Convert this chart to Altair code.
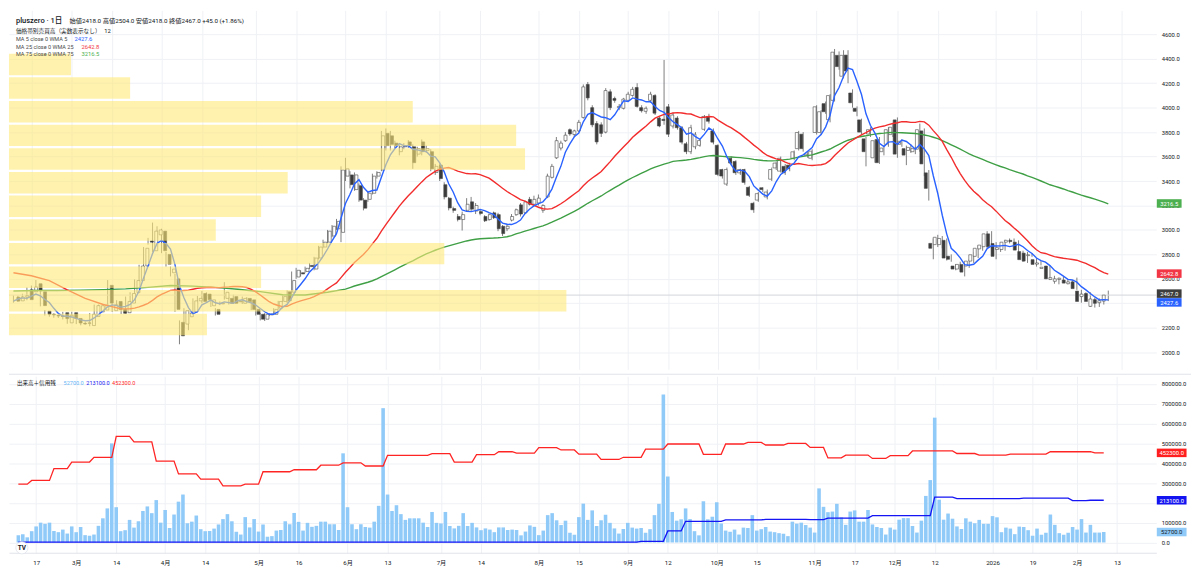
import json
import altair as alt
import pandas as pd
import numpy as np

# ---------------- layout ----------------
W = 1157
H_PRICE = 362
H_VOL = 178
FONT = "Roboto, 'Noto Sans CJK JP', 'Noto Sans', sans-serif"
TXT = "#131722"
GRID = "#eff1f5"

X_DOMAIN = [-0.99, 254.7]
PRICE_DOMAIN = [1860, 4796]
VOL_DOMAIN = [-52000, 839000]

# ---------------- axis ticks ----------------
tick_index = [4, 13, 22, 33, 42, 54, 63, 74, 83, 95, 104, 117, 126, 137, 146, 157, 166, 179, 188, 197, 206, 219, 228, 238, 247]
tick_label = ["17", "3月", "14", "4月", "14", "5月", "16", "6月", "13", "7月", "14", "8月", "15", "9月", "12", "10月", "15", "11月", "17", "12月", "12", "2026", "19", "2月", "13"]
price_ticks = [2000, 2200, 2400, 2600, 2800, 3000, 3200, 3400, 3600, 3800, 4000, 4200, 4400, 4600]
vol_ticks = [0, 100000, 200000, 300000, 400000, 500000, 600000, 700000, 800000]
# labels hidden behind the last-value tags on the right scale
price_tick_hidden = 2400
vol_tick_hidden = 200000

# ---------------- daily candles (bar 0 = 2025-02-10) ----------------
opens = [
    2450, 2420, 2450, 2510, 2494, 2560, 2494, 2336, 2310, 2300,
    2296, 2323, 2240, 2323, 2276, 2235, 2236, 2218, 2292, 2330,
    2345, 2547, 2340, 2415, 2350, 2323, 2402, 2487, 2586, 2705,
    2910, 2830, 2960, 2990, 2800, 2650, 2600, 2244, 2230, 2290,
    2330, 2420, 2480, 2475, 2380, 2350, 2395, 2440, 2440, 2455,
    2412, 2400, 2440, 2428, 2350, 2310, 2270, 2305, 2310, 2360,
    2415, 2494, 2490, 2615, 2650, 2660, 2710, 2680, 2770, 2860,
    2900, 2950, 3010, 2980, 3440, 3450, 3330, 3362, 3244, 3250,
    3300, 3440, 3490, 3790, 3770, 3710, 3640, 3680, 3720, 3680,
    3620, 3720, 3650, 3640, 3470, 3530, 3370, 3260, 3175, 3110,
    3085, 3160, 3230, 3155, 3150, 3110, 3085, 3140, 3125, 3030,
    3010, 3080, 3125, 3205, 3140, 3250, 3210, 3220, 3160, 3270,
    3430, 3590, 3670, 3730, 3820, 3780, 3810, 3920, 4190, 4000,
    3870, 3860, 3800, 4130, 4075, 4000, 3995, 4060, 4100, 4165,
    4000, 3970, 4060, 4100, 3915, 3905, 4007, 3850, 3915, 3836,
    3705, 3640, 3680, 3692, 3823, 3928, 3810, 3692, 3494, 3375,
    3586, 3560, 3467, 3494, 3349, 3218, 3244, 3345, 3270, 3415,
    3507, 3481, 3520, 3530, 3586, 3665, 3783, 3610, 3586, 3797,
    3797, 4033, 3902, 4060, 4428, 4257, 4430, 4120, 3995, 3900,
    3745, 3785, 3590, 3740, 3640, 3700, 3780, 3900, 3700, 3665,
    3650, 3640, 3660, 3810, 3467, 2890, 2880, 2880, 2915, 2785,
    2705, 2680, 2718, 2705, 2745, 2784, 2845, 2863, 2968, 2889,
    2840, 2840, 2900, 2915, 2900, 2823, 2810, 2790, 2757, 2720,
    2685, 2705, 2595, 2580, 2595, 2590, 2560, 2575, 2500, 2455,
    2480, 2375, 2430, 2405, 2418]

highs = [
    2465, 2462, 2478, 2530, 2545, 2590, 2500, 2345, 2330, 2318,
    2310, 2330, 2315, 2330, 2282, 2245, 2250, 2320, 2390, 2390,
    2395, 2590, 2400, 2425, 2360, 2455, 2490, 2595, 2715, 2860,
    2935, 3060, 3030, 3010, 2820, 2700, 2640, 2260, 2360, 2340,
    2440, 2460, 2500, 2490, 2440, 2360, 2415, 2573, 2455, 2470,
    2425, 2455, 2450, 2440, 2360, 2320, 2320, 2320, 2360, 2420,
    2465, 2505, 2660, 2690, 2670, 2700, 2730, 2780, 2870, 2920,
    3000, 3040, 3090, 3520, 3590, 3480, 3470, 3380, 3260, 3320,
    3460, 3480, 3810, 3830, 3810, 3730, 3700, 3710, 3735, 3700,
    3680, 3740, 3690, 3660, 3540, 3550, 3390, 3270, 3190, 3130,
    3150, 3260, 3270, 3220, 3165, 3120, 3135, 3150, 3140, 3040,
    3050, 3130, 3175, 3220, 3240, 3270, 3280, 3290, 3210, 3460,
    3540, 3760, 3730, 3800, 3830, 3820, 3900, 4190, 4210, 4020,
    3890, 3880, 4160, 4150, 4090, 4030, 4080, 4130, 4170, 4200,
    4020, 4010, 4130, 4110, 3930, 4390, 4030, 3960, 3930, 3850,
    3720, 3860, 3800, 3750, 3940, 3950, 3830, 3700, 3500, 3510,
    3600, 3570, 3500, 3500, 3360, 3230, 3310, 3350, 3330, 3510,
    3560, 3600, 3540, 3550, 3650, 3810, 3800, 3640, 3660, 4020,
    3980, 4050, 4110, 4480, 4460, 4470, 4470, 4150, 4010, 3910,
    3760, 3840, 3740, 3760, 3690, 3840, 3870, 3920, 3740, 3690,
    3700, 3680, 3870, 3830, 3490, 2930, 2960, 2950, 2930, 2800,
    2720, 2740, 2730, 2760, 2820, 2870, 2890, 2990, 2990, 2900,
    2870, 2920, 2930, 2930, 2915, 2830, 2820, 2810, 2770, 2745,
    2705, 2710, 2625, 2610, 2620, 2600, 2590, 2610, 2510, 2490,
    2490, 2445, 2440, 2430, 2504]

lows = [
    2405, 2412, 2438, 2425, 2480, 2495, 2375, 2300, 2290, 2282,
    2280, 2268, 2232, 2270, 2230, 2220, 2225, 2212, 2285, 2320,
    2330, 2390, 2330, 2345, 2312, 2315, 2395, 2480, 2575, 2695,
    2880, 2820, 2930, 2810, 2700, 2620, 2330, 2065, 2200, 2180,
    2320, 2400, 2400, 2420, 2370, 2300, 2385, 2430, 2390, 2395,
    2405, 2395, 2405, 2345, 2300, 2260, 2255, 2295, 2305, 2350,
    2410, 2400, 2480, 2600, 2620, 2650, 2680, 2670, 2760, 2850,
    2890, 2940, 3000, 2900, 3400, 3340, 3320, 3230, 3160, 3230,
    3290, 3420, 3480, 3650, 3650, 3670, 3610, 3660, 3670, 3500,
    3600, 3610, 3630, 3480, 3450, 3400, 3250, 3160, 3140, 3070,
    2995, 3150, 3150, 3130, 3120, 3065, 3075, 3090, 2990, 2950,
    2990, 3070, 3115, 3110, 3130, 3200, 3200, 3200, 3140, 3260,
    3420, 3580, 3650, 3720, 3770, 3760, 3800, 3910, 4060, 3840,
    3700, 3760, 3790, 3980, 4040, 3980, 3985, 4050, 4090, 4000,
    3960, 3950, 4040, 3940, 3840, 3860, 3760, 3830, 3820, 3700,
    3620, 3620, 3660, 3680, 3810, 3870, 3700, 3440, 3420, 3360,
    3530, 3450, 3450, 3370, 3270, 3140, 3230, 3310, 3250, 3400,
    3490, 3470, 3450, 3480, 3570, 3650, 3640, 3590, 3570, 3780,
    3780, 3950, 3880, 4050, 4310, 4240, 4200, 4000, 3930, 3780,
    3520, 3760, 3550, 3540, 3610, 3680, 3760, 3590, 3680, 3530,
    3630, 3620, 3640, 3440, 3240, 2760, 2860, 2850, 2750, 2740,
    2670, 2670, 2620, 2690, 2730, 2770, 2830, 2850, 2840, 2760,
    2820, 2830, 2890, 2890, 2820, 2740, 2730, 2780, 2700, 2710,
    2670, 2590, 2560, 2555, 2580, 2555, 2540, 2510, 2405, 2440,
    2370, 2365, 2370, 2390, 2418]

closes = [
    2418, 2452, 2462, 2430, 2534, 2502, 2381, 2310, 2305, 2297,
    2292, 2275, 2302, 2276, 2239, 2231, 2240, 2310, 2381, 2380,
    2385, 2402, 2388, 2350, 2318, 2415, 2480, 2586, 2705, 2850,
    2900, 2990, 3000, 2830, 2720, 2680, 2350, 2134, 2340, 2320,
    2420, 2440, 2415, 2430, 2428, 2310, 2400, 2490, 2400, 2400,
    2415, 2440, 2415, 2350, 2310, 2270, 2310, 2312, 2350, 2415,
    2455, 2420, 2586, 2670, 2640, 2686, 2700, 2770, 2860, 2900,
    2990, 3030, 3070, 3490, 3500, 3370, 3450, 3244, 3178, 3300,
    3440, 3470, 3770, 3690, 3700, 3690, 3680, 3688, 3690, 3550,
    3665, 3640, 3665, 3500, 3520, 3420, 3270, 3180, 3160, 3085,
    3125, 3210, 3170, 3200, 3135, 3075, 3125, 3100, 3010, 2970,
    3030, 3110, 3165, 3130, 3230, 3210, 3250, 3260, 3200, 3440,
    3520, 3730, 3710, 3775, 3785, 3810, 3880, 4170, 4080, 3860,
    3720, 3790, 4140, 4000, 4060, 4010, 4070, 4110, 4150, 4010,
    3975, 3995, 4110, 3955, 3850, 3895, 3783, 3940, 3836, 3718,
    3640, 3836, 3783, 3731, 3928, 3889, 3718, 3454, 3441, 3494,
    3547, 3468, 3494, 3389, 3283, 3165, 3297, 3330, 3310, 3494,
    3547, 3586, 3468, 3500, 3639, 3797, 3665, 3620, 3644, 4007,
    3967, 3967, 4099, 4454, 4336, 4428, 4300, 4040, 3970, 3800,
    3640, 3820, 3730, 3550, 3670, 3820, 3840, 3620, 3725, 3612,
    3675, 3665, 3820, 3540, 3340, 2850, 2940, 2930, 2770, 2760,
    2680, 2718, 2655, 2745, 2797, 2850, 2876, 2968, 2863, 2784,
    2855, 2900, 2915, 2905, 2835, 2757, 2745, 2797, 2718, 2730,
    2695, 2600, 2610, 2600, 2605, 2565, 2575, 2520, 2415, 2475,
    2415, 2435, 2400, 2421, 2467]

volumes = [
    37000, 42000, 26000, 57000, 81000, 100000, 94000, 100000, 58000, 52000,
    65000, 45000, 81000, 52000, 78000, 37000, 34000, 40000, 84000, 122000,
    172000, 500000, 178000, 57000, 62000, 114000, 75000, 107000, 159000, 182000,
    148000, 214000, 100000, 164000, 73000, 141000, 206000, 242000, 97000, 105000,
    136000, 67000, 57000, 58000, 70000, 91000, 118000, 143000, 107000, 54000,
    40000, 128000, 76000, 118000, 55000, 91000, 29000, 32000, 60000, 63000,
    107000, 92000, 149000, 104000, 60000, 99000, 79000, 84000, 105000, 105000,
    92000, 92000, 63000, 450000, 178000, 92000, 67000, 92000, 78000, 75000,
    105000, 185000, 678000, 242000, 159000, 188000, 143000, 114000, 122000, 122000,
    122000, 100000, 78000, 154000, 99000, 96000, 154000, 83000, 71000, 84000,
    148000, 83000, 99000, 76000, 62000, 71000, 65000, 52000, 76000, 76000,
    63000, 65000, 63000, 36000, 55000, 86000, 79000, 37000, 60000, 138000,
    148000, 112000, 88000, 110000, 49000, 39000, 128000, 196000, 114000, 162000,
    83000, 112000, 140000, 99000, 71000, 45000, 68000, 99000, 75000, 70000,
    73000, 49000, 67000, 138000, 195000, 747000, 333000, 154000, 110000, 117000,
    172000, 118000, 57000, 36000, 208000, 117000, 130000, 203000, 96000, 60000,
    54000, 65000, 40000, 75000, 73000, 138000, 60000, 67000, 78000, 55000,
    52000, 47000, 44000, 32000, 105000, 95000, 100000, 88000, 75000, 50000,
    273000, 180000, 153000, 156000, 195000, 127000, 89000, 156000, 162000, 105000,
    105000, 164000, 91000, 78000, 73000, 40000, 75000, 65000, 115000, 123000,
    123000, 83000, 50000, 110000, 235000, 315000, 630000, 216000, 115000, 146000,
    120000, 81000, 68000, 122000, 105000, 97000, 114000, 94000, 94000, 133000,
    127000, 52000, 75000, 70000, 42000, 80000, 78000, 62000, 34000, 70000,
    39000, 49000, 141000, 89000, 47000, 39000, 49000, 78000, 65000, 118000,
    50000, 89000, 50000, 50000, 52700]

# weekly margin balances (step start bar, value)
red_step_idx = [0, 3, 8, 12, 17, 22, 26, 31, 36, 41, 46, 51, 55, 62, 68, 73, 78, 83, 93, 98,
                103, 108, 112, 117, 122, 126, 131, 136, 141, 146, 154, 159, 164, 168, 173, 178,
                182, 186, 192, 196, 201, 211, 216, 223, 232, 242]
red_step_val = [294000, 313000, 373000, 406000, 430000, 536000, 508000, 411000, 346000, 320000,
                286000, 294000, 357000, 367000, 390000, 402000, 386000, 440000, 448000, 406000,
                443000, 458000, 451000, 479000, 467000, 446000, 419000, 430000, 471000, 497000,
                445000, 497000, 505000, 492000, 500000, 480000, 427000, 441000, 424000, 438000,
                462000, 449000, 441000, 446000, 458000, 452300]
blue_step_idx = [0, 140, 146, 150, 159, 168, 178, 182, 192, 206, 211, 226, 237, 241]
blue_step_val = [2000, 6000, 58000, 107000, 114000, 117000, 115000, 123000, 135000, 229000,
                 221000, 224000, 211000, 213100]

# moving averages before enough history exists
ma25_early_idx = [0, 4, 8, 12, 16, 20]
ma25_early_val = [2650, 2625, 2585, 2510, 2440, 2390]
ma75_early_idx = [0, 5, 10, 15, 20, 25, 30, 35, 40, 45, 50, 55, 60, 65, 70]
ma75_early_val = [2500, 2505, 2505, 2508, 2512, 2518, 2530, 2545, 2540, 2530, 2515, 2495, 2470, 2468, 2490]

# volume profile (12 price rows, relative volume in thousand shares)
profile_row_low = [2130, 2323, 2517, 2710, 2903, 3097, 3290, 3483, 3677, 3870, 4063, 4257]
profile_row_high = [2323, 2517, 2710, 2903, 3097, 3290, 3483, 3677, 3870, 4063, 4257, 4450]
profile_volume = [2010, 5660, 2560, 4420, 2100, 2560, 2830, 5240, 5150, 4100, 1230, 630]

# legend values
ohlc_text = "始値2418.0 高値2504.0 安値2418.0 終値2467.0 +45.0 (+1.86%)"
ma5_last, ma25_last, ma75_last = 2427.6, 2642.8, 3216.5
vol_last, blue_last, red_last = 52700.0, 213100.0, 452300.0

# ---------------- tables ----------------
n = len(closes)
idx = list(range(n))
df = pd.DataFrame({"i": idx, "o": opens, "h": highs, "l": lows, "c": closes, "v": volumes})

cs = pd.Series(closes, dtype=float)
ma5_df = pd.DataFrame({"i": idx, "m": cs.rolling(5, min_periods=1).mean()})
ma25_df = pd.concat([pd.DataFrame({"i": ma25_early_idx, "m": ma25_early_val}),
                     pd.DataFrame({"i": idx, "m": cs.rolling(25).mean()}).dropna()])
ma75_df = pd.concat([pd.DataFrame({"i": ma75_early_idx, "m": ma75_early_val}),
                     pd.DataFrame({"i": idx, "m": cs.rolling(75).mean()}).dropna()])


def hold_steps(step_idx, step_val):
    pos = np.searchsorted(np.array(step_idx), np.array(idx), side="right") - 1
    return [step_val[p] for p in pos]


df["red"] = hold_steps(red_step_idx, red_step_val)
df["blue"] = hold_steps(blue_step_idx, blue_step_val)

gap = 9
prof_df = pd.DataFrame({
    "z": [0] * len(profile_volume),
    "vol": profile_volume,
    "lo": [a + gap for a in profile_row_low],
    "hi": [b - gap for b in profile_row_high],
})

# ---------------- scales / axes ----------------
xsc = alt.Scale(domain=X_DOMAIN, nice=False, zero=False)
psc = alt.Scale(domain=PRICE_DOMAIN, nice=False, zero=False)
vsc = alt.Scale(domain=VOL_DOMAIN, nice=False, zero=False)

label_expr = "{}[indexof({}, datum.value)]".format(
    json.dumps(tick_label, ensure_ascii=False), json.dumps(tick_index))

AX_FS = 5.9
x_grid_axis = alt.Axis(values=tick_index, grid=True, gridColor=GRID, labels=False,
                       ticks=False, domain=False, title=None)
x_label_axis = alt.Axis(values=tick_index, labelExpr=label_expr, grid=True, gridColor=GRID,
                        ticks=False, domain=True, domainColor="#e0e3eb", labelFontSize=6.2,
                        labelColor=TXT, labelPadding=7, labelFont=FONT, title=None,
                        labelAngle=0, labelFlush=False)
y_price_axis = alt.Axis(orient="right", values=price_ticks,
                        labelExpr=f"datum.value == {price_tick_hidden} ? '' : format(datum.value, '.1f')",
                        grid=True, gridColor=GRID, ticks=False, domain=False, labelFontSize=AX_FS,
                        labelColor=TXT, labelPadding=5, labelFont=FONT, title=None,
                        labelOverlap=False)
y_vol_axis = alt.Axis(orient="right", values=vol_ticks,
                      labelExpr=f"datum.value == {vol_tick_hidden} ? '' : format(datum.value, '.1f')",
                      grid=True, gridColor=GRID, ticks=False, domain=False, labelFontSize=AX_FS,
                      labelColor=TXT, labelPadding=5, labelFont=FONT, title=None,
                      labelOverlap=False)


def text_mark(text, x, y, size=6.0, color=TXT, weight="normal", align="left"):
    return alt.Chart(pd.DataFrame({"t": [text]})).mark_text(
        align=align, baseline="middle", fontSize=size, font=FONT, color=color,
        fontWeight=weight).encode(x=alt.value(x), y=alt.value(y), text="t:N")


def value_tag(value, scale, axis, bg, fg, yoff=0, w=25, h=8.6, fmt="{:.1f}"):
    hh = round(h / w, 4)
    d = pd.DataFrame({"v": [value], "t": [fmt.format(value)]})
    box = alt.Chart(d).mark_point(
        shape=f"M-1,-{hh}L1,-{hh}L1,{hh}L-1,{hh}Z", size=w * w, filled=True,
        color=bg, opacity=1, strokeWidth=0, yOffset=yoff).encode(
        x=alt.value(W + w / 2 + 0.5), y=alt.Y("v:Q", scale=scale, axis=axis))
    txt = alt.Chart(d).mark_text(
        color=fg, fontSize=AX_FS, font=FONT, align="center", baseline="middle",
        yOffset=yoff + 0.3).encode(
        x=alt.value(W + w / 2 + 0.5), y=alt.Y("v:Q", scale=scale, axis=axis), text="t:N")
    return [box, txt]


# ---------------- price panel ----------------
wick = alt.Chart(df).mark_rule(color="#474747", strokeWidth=0.7).encode(
    x=alt.X("i:Q", scale=xsc, axis=x_grid_axis),
    y=alt.Y("l:Q", scale=psc, axis=y_price_axis),
    y2="h:Q")

price_line = alt.Chart(pd.DataFrame({"v": [closes[-1]]})).mark_rule(
    color="#d3d5da", strokeWidth=1).encode(
    x=alt.value(0), x2=alt.value(W), y=alt.Y("v:Q", scale=psc, axis=y_price_axis))

body = alt.Chart(df).mark_bar(size=3, stroke="#474747", strokeWidth=0.6).encode(
    x=alt.X("i:Q", scale=xsc, axis=None),
    y=alt.Y("o:Q", scale=psc, axis=y_price_axis),
    y2="c:Q",
    fill=alt.condition("datum.c >= datum.o", alt.value("#ffffff"), alt.value("#3b3b3b")))


def ma_line(d, color):
    return alt.Chart(d).mark_line(color=color, strokeWidth=1.4).encode(
        x=alt.X("i:Q", scale=xsc, axis=None),
        y=alt.Y("m:Q", scale=psc, axis=y_price_axis))


profile = alt.Chart(prof_df).mark_rect(color="#FFE97A", opacity=0.6).encode(
    x=alt.X("z:Q", scale=alt.Scale(domain=[0, 11650], nice=False, zero=False), axis=None),
    x2="vol:Q",
    y=alt.Y("lo:Q", scale=psc, axis=y_price_axis),
    y2="hi:Q")

price_layers = [wick, price_line, body,
                ma_line(ma75_df, "#3f9f45"), ma_line(ma25_df, "#f22c2c"), ma_line(ma5_df, "#2962ff"),
                profile]
price_layers += value_tag(ma75_last, psc, y_price_axis, "#4caf50", "#ffffff")
price_layers += value_tag(ma25_last, psc, y_price_axis, "#f23645", "#ffffff")
price_layers += value_tag(closes[-1], psc, y_price_axis, "#3d3d3d", "#ffffff", yoff=-1.5)
price_layers += value_tag(ma5_last, psc, y_price_axis, "#2962ff", "#ffffff", yoff=2.5)
price_layers += [
    text_mark("pluszero · 1日", 7, 10.5, size=7.6, weight=500),
    text_mark(ohlc_text, 61, 10.7, size=6.3),
    text_mark("価格帯別売買高（実数表示なし）", 7, 20.5, size=5.7),
    text_mark("12", 96, 20.5, size=5.9),
    text_mark("MA 5 close 0 WMA 5", 7, 29, size=5.6, color="#4a4a4a"),
    text_mark(f"{ma5_last:.1f}", 66, 29, size=5.9, color="#2962ff"),
    text_mark("MA 25 close 0 WMA 25", 7, 36.7, size=5.6, color="#4a4a4a"),
    text_mark(f"{ma25_last:.1f}", 73, 36.7, size=5.9, color="#f23645"),
    text_mark("MA 75 close 0 WMA 75", 7, 44.3, size=5.6, color="#4a4a4a"),
    text_mark(f"{ma75_last:.1f}", 73, 44.3, size=5.9, color="#4caf50"),
]

price_chart = alt.layer(*price_layers).resolve_scale(x="independent").properties(
    width=W, height=H_PRICE)

# ---------------- volume panel ----------------
vbars = alt.Chart(df).mark_bar(size=3.6, color="#90caf9").encode(
    x=alt.X("i:Q", scale=xsc, axis=x_label_axis),
    y=alt.Y("v:Q", scale=vsc, axis=y_vol_axis))

red_line = alt.Chart(df).mark_line(color="#ff2424", strokeWidth=1.3).encode(
    x=alt.X("i:Q", scale=xsc, axis=x_label_axis), y=alt.Y("red:Q", scale=vsc, axis=y_vol_axis))
blue_line = alt.Chart(df).mark_line(color="#1414f5", strokeWidth=1.3).encode(
    x=alt.X("i:Q", scale=xsc, axis=x_label_axis), y=alt.Y("blue:Q", scale=vsc, axis=y_vol_axis))

separator = alt.Chart(pd.DataFrame({"a": [0]})).mark_rule(color="#e0e3eb", strokeWidth=1).encode(
    x=alt.value(0), x2=alt.value(W + 35), y=alt.value(-2))

logo_df = pd.DataFrame({"t": ["TV"]})
logo_circle = alt.Chart(logo_df).mark_point(shape="circle", size=150, filled=True, color="#ffffff",
                                            stroke="#e0e3eb", strokeWidth=0.8, opacity=1).encode(
    x=alt.value(13), y=alt.value(H_VOL - 5))
logo_text = alt.Chart(logo_df).mark_text(fontSize=6.5, fontWeight="bold", color=TXT, font=FONT,
                                         align="center", baseline="middle").encode(
    x=alt.value(13), y=alt.value(H_VOL - 5), text="t:N")

vol_layers = [vbars, red_line, blue_line, separator]
vol_layers += value_tag(red_last, vsc, y_vol_axis, "#ff1f1f", "#ffffff", w=30)
vol_layers += value_tag(blue_last, vsc, y_vol_axis, "#1414f0", "#ffffff", w=30)
vol_layers += value_tag(vol_last, vsc, y_vol_axis, "#90caf9", TXT, w=30)
vol_layers += [
    text_mark("出来高＋信用残", 8, 7, size=5.6),
    text_mark(f"{vol_last:.1f}", 55, 7, size=5.6, color="#64b5f6"),
    text_mark(f"{blue_last:.1f}", 78, 7, size=5.6, color="#1414f0"),
    text_mark(f"{red_last:.1f}", 104, 7, size=5.6, color="#ff1f1f"),
    logo_circle, logo_text,
]

vol_chart = alt.layer(*vol_layers).properties(width=W, height=H_VOL)

chart = alt.vconcat(price_chart, vol_chart, spacing=4).properties(
    padding={"left": 0, "right": 0, "top": 0, "bottom": 0},
    background="#ffffff",
).configure_view(stroke=None)

chart.save("out.html", embed_options={"renderer": "svg", "actions": False})
